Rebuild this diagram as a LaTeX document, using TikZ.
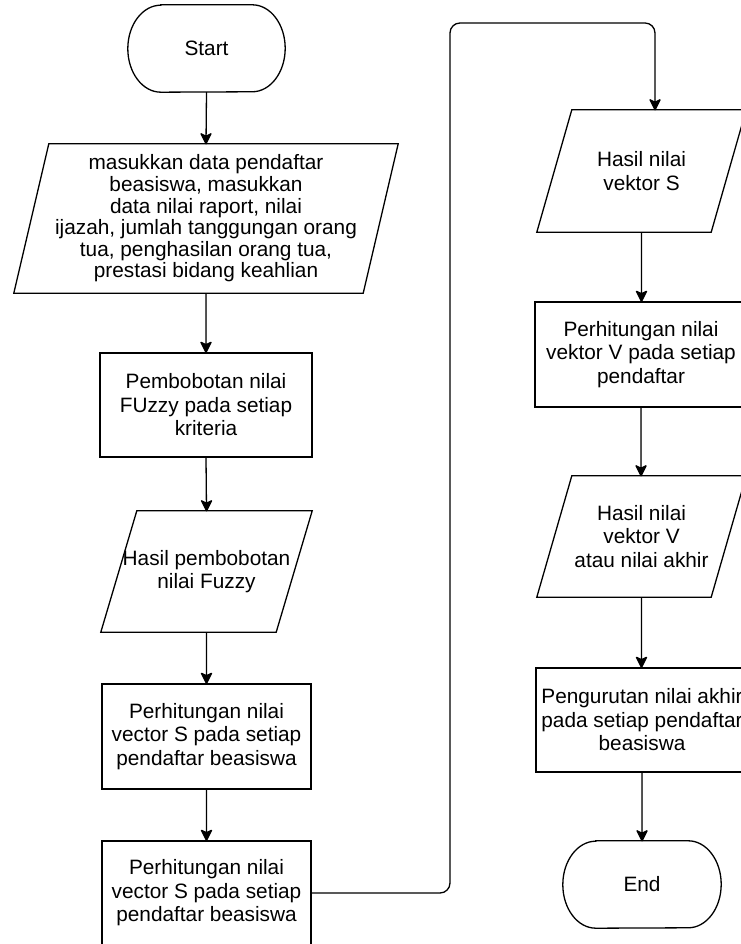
\documentclass[tikz,border=0pt]{standalone}
\usepackage{fontspec}
\setmainfont{Liberation Sans}
\tikzset{
  txt/.style={inner sep=0pt, align=center, font=\fontsize{20.8}{23.5}\selectfont},
  box/.style={txt, draw, line width=1.3pt},
  conn/.style={line width=1.3pt, line join=round, fill=black},
  route/.style={line width=1.3pt, rounded corners=10pt}
}
\newcommand\paradraw[2]{\draw[line width=1.3pt] ([xshift=#2]#1.north west) -- (#1.north east) -- ([xshift=-#2]#1.south east) -- (#1.south west) -- cycle;}
\newcommand\termdraw[1]{\draw[line width=1.3pt] ([xshift=33pt]#1.north west) -- ([xshift=-33pt]#1.north east) arc[start angle=90,end angle=-90,x radius=33pt,y radius=43.5pt] -- ([xshift=33pt]#1.south west) arc[start angle=270,end angle=90,x radius=33pt,y radius=43.5pt] -- cycle;}
\newcommand\arr[2]{\filldraw[conn] (#1) -- (#2) -- ++(-5pt,10pt) -- ++(5pt,-2.5pt) -- ++(5pt,2.5pt) -- (#2);}
\begin{document}
\begin{tikzpicture}
\useasboundingbox (0pt,0pt) rectangle (740pt,944pt);
% left column
\node[txt, minimum width=157pt, minimum height=87pt] (start) at (206.5pt,895.5pt) {Start};
\termdraw{start}
\node[txt, font=\fontsize{20.8}{21.6}\selectfont, minimum width=384pt, minimum height=149pt] (in) at (206pt,725.5pt) {masukkan data pendaftar\\beasiswa, masukkan\\data nilai raport, nilai\\ijazah, jumlah tanggungan orang\\tua, penghasilan orang tua,\\prestasi bidang keahlian};
\paradraw{in}{35pt}
\node[box, minimum width=212pt, minimum height=104pt] (bobot) at (206pt,539pt) {Pembobotan nilai\\FUzzy pada setiap\\kriteria};
\node[txt, minimum width=211pt, minimum height=121pt] (hbobot) at (206.5pt,372.5pt) {Hasil pembobotan\\nilai Fuzzy};
\paradraw{hbobot}{36pt}
\node[box, minimum width=209pt, minimum height=105pt] (vs1) at (206.5pt,207.5pt) {Perhitungan nilai\\vector S pada setiap\\pendaftar beasiswa};
\node[box, minimum width=209pt, minimum height=104pt] (vs2) at (206.5pt,51pt) {Perhitungan nilai\\vector S pada setiap\\pendaftar beasiswa};
% right column
\node[txt, minimum width=209pt, minimum height=122pt] (hs) at (641.5pt,773pt) {Hasil nilai\\vektor S};
\paradraw{hs}{35pt}
\node[box, minimum width=212pt, minimum height=105pt] (vv) at (641pt,589.5pt) {Perhitungan nilai\\vektor V pada setiap\\pendaftar};
\node[txt, minimum width=209pt, minimum height=121pt] (hv) at (641.5pt,407.5pt) {Hasil nilai\\vektor V\\atau nilai akhir};
\paradraw{hv}{35pt}
\node[box, minimum width=212pt, minimum height=104pt] (urut) at (642pt,224pt) {Pengurutan nilai akhir\\pada setiap pendaftar\\beasiswa};
\node[txt, minimum width=158pt, minimum height=87pt] (end) at (642pt,59.5pt) {End};
\termdraw{end}
% connectors
\coordinate (c1) at (450pt,921pt);
\coordinate (hsin) at ([xshift=13.5pt]hs.north);
\coordinate (hsup) at ([yshift=10pt]hsin);
\coordinate (vvin) at (hs.south |- vv.north);
\coordinate (hvin) at (vv.south |- hv.north);
\coordinate (urin) at (hv.south |- urut.north);
\arr{start.south}{in.north}
\arr{in.south}{bobot.north}
\arr{bobot.south}{hbobot.north}
\arr{hbobot.south}{vs1.north}
\arr{vs1.south}{vs2.north}
\draw[route] (vs2.east) -| (c1) -| (hsup);
\arr{hsup}{hsin}
\arr{hs.south}{vvin}
\arr{vv.south}{hvin}
\arr{hv.south}{urin}
\arr{urut.south}{end.north}
\end{tikzpicture}
\end{document}
